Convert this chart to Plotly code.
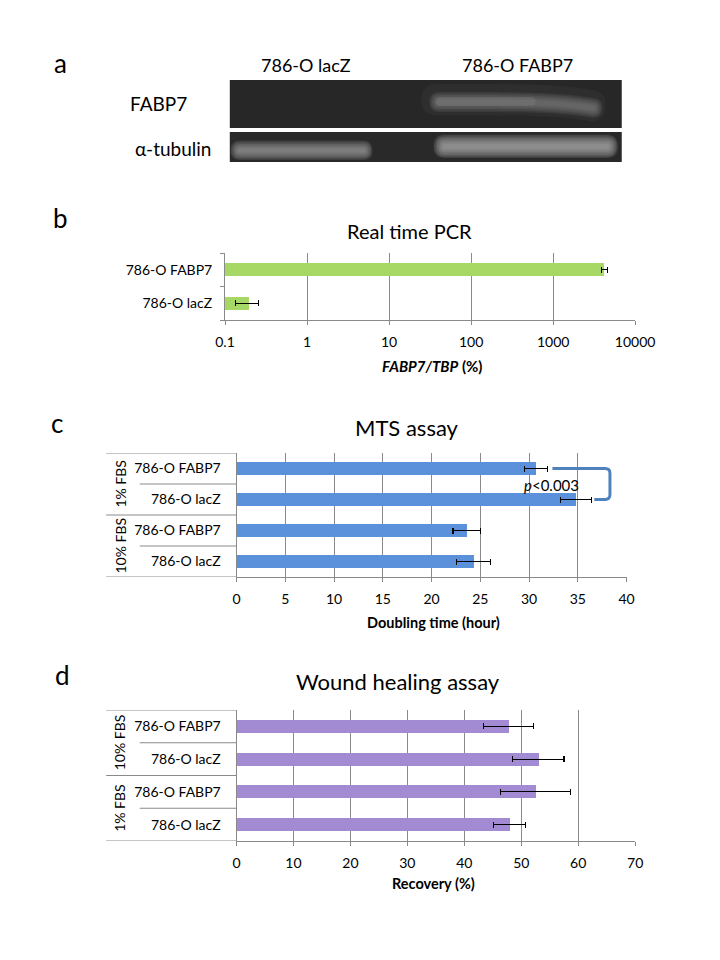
import plotly.graph_objects as go

# ---------------- data ----------------
# Panel b: Real time PCR (log scale)
pcr_categories = ["786-O lacZ", "786-O FABP7"]          # bottom -> top
pcr_values = [0.195, 4200]
pcr_errors = [0.062, 350]
pcr_tickvals = [0.1, 1, 10, 100, 1000, 10000]
pcr_ticktext = ["0.1", "1", "10", "100", "1000", "10000"]

# Panel c: MTS assay (bottom -> top)
mts_labels = ["786-O lacZ", "786-O FABP7", "786-O lacZ", "786-O FABP7"]
mts_groups = ["10% FBS", "1% FBS"]
mts_values = [24.3, 23.6, 34.8, 30.7]
mts_errors = [1.75, 1.4, 1.6, 1.2]
mts_tickvals = [0, 5, 10, 15, 20, 25, 30, 35, 40]

# Panel d: Wound healing assay (bottom -> top)
wh_labels = ["786-O lacZ", "786-O FABP7", "786-O lacZ", "786-O FABP7"]
wh_groups = ["1% FBS", "10% FBS"]
wh_values = [47.9, 52.5, 53.0, 47.8]
wh_errors = [2.8, 6.2, 4.5, 4.4]
wh_tickvals = [0, 10, 20, 30, 40, 50, 60, 70]

# ---------------- helpers ----------------
W, H = 720, 960
FONT = "Lato, Carlito, Calibri, sans-serif"
GRID = "#8a8a8a"


def fx(x):
    return x / W


def fy(y):
    return 1 - y / H


def P(x, y):
    return f"{fx(x):.5f},{fy(y):.5f}"


def dom_x(a, b):
    return [fx(a), fx(b)]


def dom_y(top, bottom):
    return [fy(bottom), fy(top)]


def band_path(x0, x1, ytop, ybot, droop=0.0):
    r = (ybot - ytop) / 2
    L = x1 - x0
    ym = (ytop + ybot) / 2
    return (
        "M " + P(x0 + r, ytop)
        + " C " + P(x0 + 0.55 * L, ytop) + " " + P(x1 - 0.25 * L, ytop) + " " + P(x1 - r, ytop + droop)
        + " Q " + P(x1, ytop + droop) + " " + P(x1, ym + droop)
        + " Q " + P(x1, ybot + droop) + " " + P(x1 - r, ybot + droop)
        + " C " + P(x1 - 0.25 * L, ybot) + " " + P(x0 + 0.55 * L, ybot) + " " + P(x0 + r, ybot)
        + " Q " + P(x0, ybot) + " " + P(x0, ym)
        + " Q " + P(x0, ytop) + " " + P(x0 + r, ytop)
        + " Z"
    )


fig = go.Figure()

# ---------------- traces ----------------
fig.add_trace(go.Bar(
    x=pcr_values, y=pcr_categories, orientation="h", width=0.39,
    marker=dict(color="#A7D765", line=dict(width=0)),
    error_x=dict(type="data", array=pcr_errors, color="black", thickness=1.2, width=3),
    xaxis="x", yaxis="y", hoverinfo="skip",
))
fig.add_trace(go.Bar(
    x=mts_values, y=[0, 1, 2, 3], orientation="h", width=0.39,
    marker=dict(color="#5B90DB", line=dict(width=0)),
    error_x=dict(type="data", array=mts_errors, color="black", thickness=1.2, width=3),
    xaxis="x2", yaxis="y2", hoverinfo="skip",
))
fig.add_trace(go.Bar(
    x=wh_values, y=[0, 1, 2, 3], orientation="h", width=0.39,
    marker=dict(color="#A28BD3", line=dict(width=0)),
    error_x=dict(type="data", array=wh_errors, color="black", thickness=1.2, width=3),
    xaxis="x3", yaxis="y3", hoverinfo="skip",
))

TICKFONT = dict(family=FONT, size=14, color="black")
CATFONT = dict(family=FONT, size=14, color="black")

axis_common = dict(
    showgrid=True, gridcolor=GRID, gridwidth=1,
    showline=True, linecolor=GRID, linewidth=1,
    ticks="outside", ticklen=4, tickcolor=GRID, tickwidth=1,
    zeroline=False, fixedrange=True,
    tickfont=TICKFONT,
)

fig.update_layout(
    width=W, height=H,
    margin=dict(l=0, r=0, t=0, b=0),
    paper_bgcolor="white", plot_bgcolor="white",
    showlegend=False, bargap=0,
    font=dict(family=FONT, size=15, color="black"),
    xaxis=dict(axis_common, domain=dom_x(216, 644), type="log", range=[-1, 4],
               tickvals=pcr_tickvals, ticktext=pcr_ticktext, anchor="y",
               ticklabelstandoff=5),
    yaxis=dict(domain=dom_y(245, 312), type="category", categoryarray=pcr_categories,
               categoryorder="array", range=[-0.5, 1.5],
               showline=True, linecolor=GRID, ticks="outside", tickson="boundaries",
               ticklen=4, tickcolor=GRID, showgrid=False, zeroline=False,
               anchor="x", fixedrange=True, ticklabelstandoff=9,
               tickfont=CATFONT),
    xaxis2=dict(axis_common, domain=dom_x(228, 635), range=[0, 40],
                tickvals=mts_tickvals, anchor="y2", ticklabelstandoff=5),
    yaxis2=dict(domain=dom_y(445, 569), range=[-0.5, 3.5],
                tickvals=[0, 1, 2, 3], ticktext=mts_labels,
                showline=True, linecolor=GRID, ticks="", showgrid=False,
                zeroline=False, anchor="x2", fixedrange=True, ticklabelstandoff=12,
                tickfont=CATFONT),
    xaxis3=dict(axis_common, domain=dom_x(228, 644), range=[0, 70],
                tickvals=wh_tickvals, anchor="y3", ticklabelstandoff=5),
    yaxis3=dict(domain=dom_y(702, 833), range=[-0.5, 3.5],
                tickvals=[0, 1, 2, 3], ticktext=wh_labels,
                showline=True, linecolor=GRID, ticks="", showgrid=False,
                zeroline=False, anchor="x3", fixedrange=True, ticklabelstandoff=12,
                tickfont=CATFONT),
)

shapes = []
annotations = []


def text(x, y, s, size=15, angle=0, xanchor="center", yanchor="middle",
         xref="paper", yref="paper"):
    annotations.append(dict(
        x=x, y=y, xref=xref, yref=yref, text=s, showarrow=False,
        xanchor=xanchor, yanchor=yanchor, textangle=angle,
        font=dict(family=FONT, size=size, color="black"),
    ))


# ---------------- panel a: blot ----------------
shapes.append(dict(type="rect", xref="paper", yref="paper",
                   x0=fx(221), x1=fx(630), y0=fy(120), y1=fy(72),
                   fillcolor="#272727", line=dict(width=0), layer="above"))
shapes.append(dict(type="rect", xref="paper", yref="paper",
                   x0=fx(221), x1=fx(630), y0=fy(154), y1=fy(124),
                   fillcolor="#292929", line=dict(width=0), layer="above"))

bands = [
    # x0, x1, ytop, ybot, droop, colour, halo, layer opacity
    (433, 606, 88, 100, 6, "#8c8c8c", 12, 0.14),
    (226, 366, 137, 148, 0, "#a8a8a8", 5, 0.17),
    (438, 622, 131, 146, 0, "#b0b0b0", 5, 0.17),
]
for x0, x1, yt, yb, dr, col, halo, op in bands:
    # faint wide halo
    shapes.append(dict(type="path", xref="paper", yref="paper",
                       path=band_path(x0 - halo, x1 + halo * 0.6, yt - halo, yb + halo * 0.6, dr),
                       fillcolor="#555555", opacity=0.18, line=dict(width=0), layer="above"))
    k = -4.0
    while yb - yt - 2 * k > 2:
        shapes.append(dict(type="path", xref="paper", yref="paper",
                           path=band_path(x0 + k, x1 - k, yt + k, yb - k, dr),
                           fillcolor=col, opacity=op, line=dict(width=0), layer="above"))
        k += 1.5
# brighter head of the FABP7 band
shapes.append(dict(type="path", xref="paper", yref="paper",
                   path=band_path(436, 540, 89, 98, 0),
                   fillcolor="#9a9a9a", opacity=0.18, line=dict(width=0), layer="above"))

text(fx(44), fy(55), "a", size=26)
text(fx(300), fy(57), "786-O lacZ", size=18)
text(fx(521), fy(57), "786-O FABP7", size=18)
text(fx(147), fy(96), "FABP7", size=19)
text(fx(162), fy(140), "α-tubulin", size=19)

# ---------------- panel b ----------------
text(fx(44), fy(210), "b", size=26)
text(fx(408), fy(223), "Real time PCR", size=20)
text(fx(432), fy(358), "<b><i>FABP7/TBP</i> (%)</b>", size=15)

# ---------------- panel c ----------------
text(fx(41), fy(415), "c", size=26)
text(fx(406), fy(419), "MTS assay", size=22)
text(fx(434), fy(614), "<b>Doubling time (hour)</b>", size=14.5)

for yv, x0 in [(3.5, 92), (2.5, 127), (1.5, 92), (0.5, 127), (-0.5, 92)]:
    shapes.append(dict(type="line", xref="paper", yref="y2", x0=fx(x0), x1=fx(228),
                       y0=yv, y1=yv, line=dict(color=GRID, width=1)))
text(fx(106), 2.5, mts_groups[1], size=14, angle=-90, yref="y2")
text(fx(106), 0.5, mts_groups[0], size=14, angle=-90, yref="y2")

# significance bracket
shapes.append(dict(
    type="path", xref="x2", yref="y2",
    path="M 32.4,3 L 37.8,3 Q 38.3,3 38.3,2.85 L 38.3,2.15 Q 38.3,2 37.8,2 L 36.7,2",
    line=dict(color="#4F81BD", width=3), layer="above"))
text(32.3, 2.47, "<i>p</i>&lt;0.003", size=15, xref="x2", yref="y2")

# ---------------- panel d ----------------
text(fx(46), fy(667), "d", size=26)
text(fx(396), fy(673), "Wound healing assay", size=22)
text(fx(434), fy(875), "<b>Recovery (%)</b>", size=14.5)

for yv, x0 in [(3.5, 92), (2.5, 127), (1.5, 92), (0.5, 127), (-0.5, 92)]:
    shapes.append(dict(type="line", xref="paper", yref="y3", x0=fx(x0), x1=fx(228),
                       y0=yv, y1=yv, line=dict(color=GRID, width=1)))
text(fx(106), 2.5, wh_groups[1], size=14, angle=-90, yref="y3")
text(fx(106), 0.5, wh_groups[0], size=14, angle=-90, yref="y3")

fig.update_layout(shapes=shapes, annotations=annotations)

fig.write_html("out.html")
